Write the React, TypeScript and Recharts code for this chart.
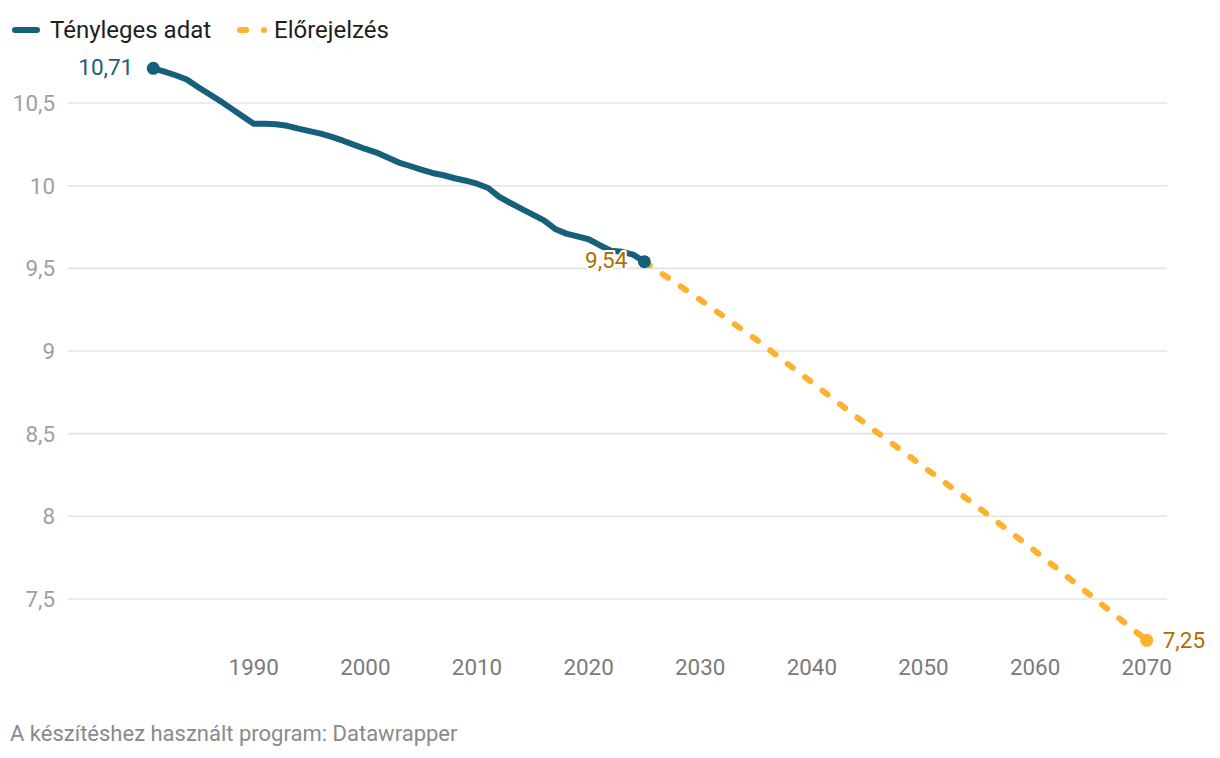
import React from 'react';
import { LineChart, Line, XAxis, YAxis, CartesianGrid } from 'recharts';

const actualYears = [
  1981, 1982, 1983, 1984, 1985, 1986, 1987, 1988, 1989, 1990,
  1991, 1992, 1993, 1994, 1995, 1996, 1997, 1998, 1999, 2000,
  2001, 2002, 2003, 2004, 2005, 2006, 2007, 2008, 2009, 2010,
  2011, 2012, 2013, 2014, 2015, 2016, 2017, 2018, 2019, 2020,
  2021, 2022, 2023, 2024, 2025,
];
const actualValues = [
  10.71, 10.69, 10.668, 10.642, 10.597, 10.555, 10.512, 10.466, 10.42, 10.375,
  10.375, 10.372, 10.362, 10.345, 10.33, 10.315, 10.295, 10.272, 10.247, 10.222,
  10.2, 10.17, 10.14, 10.119, 10.097, 10.077, 10.063, 10.045, 10.03, 10.012,
  9.986, 9.932, 9.895, 9.86, 9.825, 9.79, 9.738, 9.71, 9.693, 9.676,
  9.64, 9.607, 9.6, 9.583, 9.54,
];
const forecastYears = [2025, 2030, 2035, 2040, 2045, 2050, 2055, 2060, 2065, 2070];
const forecastValues = [9.54, 9.31, 9.07, 8.81, 8.55, 8.3, 8.05, 7.79, 7.52, 7.25];
const xTicks = [1990, 2000, 2010, 2020, 2030, 2040, 2050, 2060, 2070];
const yTicks = [7.5, 8, 8.5, 9, 9.5, 10, 10.5];
const legendLabels = ['Tényleges adat', 'Előrejelzés'];
const footerText = 'A készítéshez használt program: Datawrapper';

const BLUE = '#17607c';
const ORANGE = '#fdb12e';
const ORANGE_DARK = '#ad7000';
const FONT = 'Roboto, "Noto Sans", sans-serif';

const allYears = Array.from(new Set([...actualYears, ...forecastYears])).sort((a, b) => a - b);
const data = allYears.map((year) => {
  const ai = actualYears.indexOf(year);
  const fi = forecastYears.indexOf(year);
  return {
    year,
    actual: ai >= 0 ? actualValues[ai] : null,
    forecast: fi >= 0 ? forecastValues[fi] : null,
  };
});

const fmt = (v: number, d: number) => v.toFixed(d).replace('.', ',');
const fmtTick = (v: number) => (Number.isInteger(v) ? String(v) : fmt(v, 1));

const ActualDot = (p: any) => {
  const { cx, cy, payload } = p;
  const yr = payload?.year;
  const key = `a-${yr}`;
  if (cx == null || cy == null || payload?.actual == null) return <g key={key} />;
  if (yr === actualYears[0]) {
    return (
      <g key={key}>
        <circle cx={cx} cy={cy} r={6.5} fill={BLUE} />
        <text x={cx - 20} y={cy + 7} textAnchor="end" fill={BLUE} fontSize={22.5} fontFamily={FONT}>
          {fmt(payload.actual, 2)}
        </text>
      </g>
    );
  }
  if (yr === actualYears[actualYears.length - 1]) {
    return (
      <g key={key}>
        <circle cx={cx} cy={cy} r={6.5} fill={BLUE} />
        <text
          x={cx - 17}
          y={cy + 6}
          textAnchor="end"
          fill={ORANGE_DARK}
          fontSize={22.5}
          fontFamily={FONT}
          stroke="#ffffff"
          strokeWidth={4}
          paintOrder="stroke"
          strokeLinejoin="round"
        >
          {fmt(payload.actual, 2)}
        </text>
      </g>
    );
  }
  return <g key={key} />;
};

const ForecastDot = (p: any) => {
  const { cx, cy, payload } = p;
  const yr = payload?.year;
  const key = `f-${yr}`;
  if (cx == null || cy == null || payload?.forecast == null) return <g key={key} />;
  if (yr === forecastYears[forecastYears.length - 1]) {
    return (
      <g key={key}>
        <circle cx={cx} cy={cy} r={6.5} fill={ORANGE} />
        <text x={cx + 16} y={cy + 8} textAnchor="start" fill={ORANGE_DARK} fontSize={22.5} fontFamily={FONT}>
          {fmt(payload.forecast, 2)}
        </text>
      </g>
    );
  }
  return <g key={key} />;
};

export default function App() {
  return (
    <div style={{ position: 'relative', width: 1204, height: 742, fontFamily: FONT }}>
      <svg width={300} height={50} style={{ position: 'absolute', left: 0, top: 0 }}>
        <line x1={7} y1={22} x2={29} y2={22} stroke={BLUE} strokeWidth={6} strokeLinecap="round" />
        <line x1={232} y1={22} x2={238} y2={22} stroke={ORANGE} strokeWidth={6} strokeLinecap="round" />
        <circle cx={256} cy={22} r={3} fill={ORANGE} />
      </svg>
      <div style={{ position: 'absolute', left: 42, top: 9, fontSize: 24, lineHeight: '26px', color: '#1e1e1e', whiteSpace: 'nowrap' }}>
        {legendLabels[0]}
      </div>
      <div style={{ position: 'absolute', left: 266, top: 9, fontSize: 24, lineHeight: '26px', color: '#1e1e1e', whiteSpace: 'nowrap' }}>
        {legendLabels[1]}
      </div>
      <div style={{ position: 'absolute', left: 0 }}>
        <LineChart width={1204} height={700} data={data} margin={{ top: 60.3, right: 45, bottom: 0, left: 0 }} style={{ overflow: 'visible' }}>
          <CartesianGrid horizontal vertical={false} horizontalValues={yTicks} stroke="#e4e4e4" strokeWidth={1.6} />
          <XAxis
            dataKey="year"
            type="number"
            domain={[1973.36, 2071.82]}
            ticks={xTicks}
            interval={0}
            axisLine={false}
            tickLine={false}
            tickSize={0}
            tickMargin={19}
            height={67.7}
            tick={{ fill: '#7b7b7b', fontSize: 22.4, fontFamily: FONT }}
          />
          <YAxis
            type="number"
            domain={[7.25, 10.71]}
            ticks={yTicks}
            interval={0}
            axisLine={false}
            tickLine={false}
            tickSize={0}
            tickMargin={13}
            width={60}
            tickFormatter={fmtTick}
            tick={{ fill: '#a0a0a0', fontSize: 22.4, fontFamily: FONT }}
          />
          <Line
            dataKey="forecast"
            type="linear"
            stroke={ORANGE}
            strokeWidth={6}
            strokeDasharray="6.5 15.5"
            strokeLinecap="round"
            dot={ForecastDot}
            activeDot={false}
            isAnimationActive={false}
          />
          <Line
            dataKey="actual"
            type="linear"
            stroke={BLUE}
            strokeWidth={6}
            strokeLinecap="round"
            strokeLinejoin="round"
            dot={ActualDot}
            activeDot={false}
            isAnimationActive={false}
          />
        </LineChart>
      </div>
      <div style={{ position: 'absolute', left: 2, top: 715, fontSize: 22, lineHeight: '22px', color: '#8a8a8a', whiteSpace: 'nowrap' }}>
        {footerText}
      </div>
    </div>
  );
}
